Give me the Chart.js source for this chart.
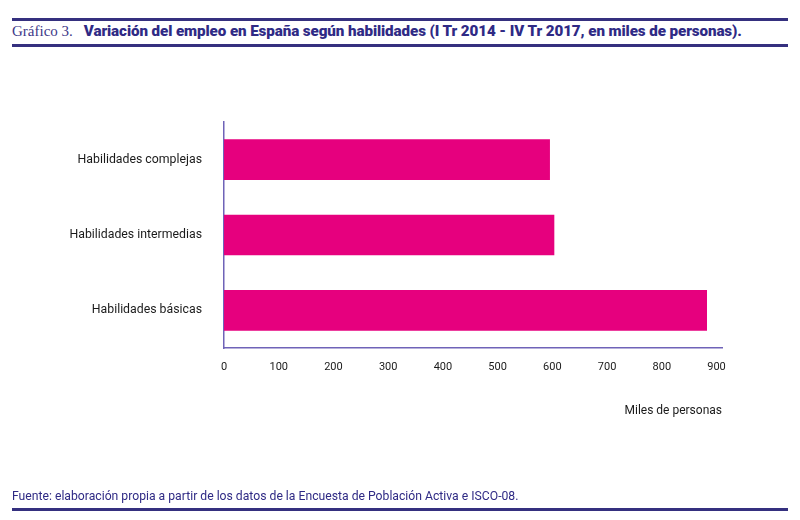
<!DOCTYPE html>
<html>
<head>
<meta charset="utf-8">
<script src="https://cdn.jsdelivr.net/npm/chart.js@4"></script>
<style>
  body { margin: 0; width: 800px; height: 520px; position: relative; background: #fff; overflow: hidden; font-family: Roboto, sans-serif; }
  .rule { position: absolute; left: 12px; width: 776px; height: 2.5px; background: #35307f; }
  #head { position: absolute; left: 12px; top: 21px; white-space: nowrap; color: #2f2a85; }
  #head .num { font-family: "Liberation Serif", serif; font-size: 15px; color: #3d3888; margin-right: 11px; }
  #head .txt { font-weight: 900; font-size: 15.2px; letter-spacing: -0.1px; }
  #foot { position: absolute; left: 12px; top: 489px; font-size: 12.2px; color: #2f2a85; white-space: nowrap; }
  #chart { position: absolute; left: 0; top: 0; }
</style>
</head>
<body>
<div class="rule" style="top:18px"></div>
<div id="head"><span class="num">Gráfico 3.</span><span class="txt">Variación del empleo en España según habilidades (I Tr 2014 - IV Tr 2017, en miles de personas).</span></div>
<div class="rule" style="top:44px"></div>
<canvas id="chart" width="800" height="520"></canvas>
<div id="foot">Fuente: elaboración propia a partir de los datos de la Encuesta de Población Activa e ISCO-08.</div>
<div class="rule" style="top:508px"></div>
<script>
const categories = ['Habilidades complejas', 'Habilidades intermedias', 'Habilidades básicas'];
const empleo = [595, 603, 882];
const tickValues = [0, 100, 200, 300, 400, 500, 600, 700, 800, 900];

const axisColor = '#6f63b8';

new Chart(document.getElementById('chart').getContext('2d'), {
  type: 'bar',
  data: {
    labels: categories,
    datasets: [
      {
        data: empleo,
        backgroundColor: '#e6007e',
        borderWidth: 0,
        barThickness: 40,
      },
    ],
  },
  options: {
    indexAxis: 'y',
    responsive: false,
    animation: false,
    layout: { padding: { top: 122, right: 78, bottom: 102, left: 0 } },
    plugins: {
      legend: { display: false },
      tooltip: { enabled: false },
    },
    scales: {
      x: {
        min: 0,
        max: 910,
        afterBuildTicks: (scale) => {
          scale.ticks = tickValues.map((v) => ({ value: v }));
        },
        afterFit: (scale) => {
          scale.height = 70;
        },
        grid: { display: false, drawTicks: false },
        border: { display: true, color: axisColor, width: 1.5 },
        ticks: { color: '#1a1a1a', padding: 13, font: { family: 'Roboto', size: 11 }, maxRotation: 0 },
        title: {
          display: true,
          text: 'Miles de personas',
          align: 'end',
          color: '#1a1a1a',
          font: { family: 'Roboto', size: 12 },
          padding: 0,
        },
      },
      y: {
        afterFit: (scale) => {
          scale.width = 224;
        },
        grid: { display: false, drawTicks: false },
        border: { display: true, color: axisColor, width: 1.5 },
        ticks: { color: '#1a1a1a', padding: 22, font: { family: 'Roboto', size: 12.3 } },
      },
    },
  },
});
</script>
</body>
</html>
